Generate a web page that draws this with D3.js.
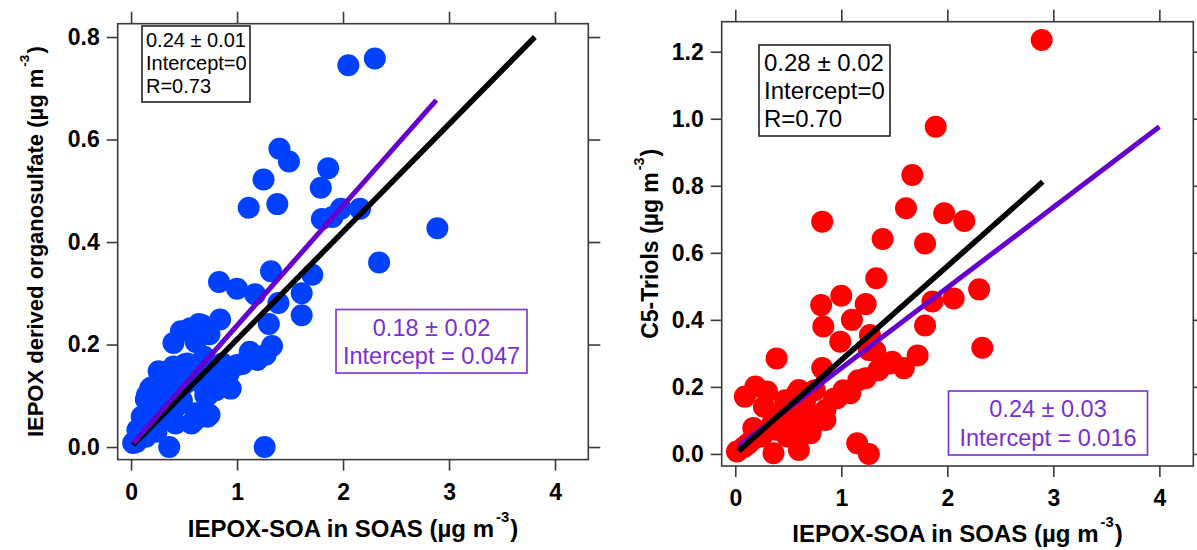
<!DOCTYPE html>
<html>
<head>
<meta charset="utf-8">
<script src="https://cdn.jsdelivr.net/npm/d3@7"></script>
<style>
  body { margin: 0; background: #fff; }
  svg { display: block; }
  text { font-family: "Liberation Sans", Arial, Helvetica, sans-serif; }
</style>
</head>
<body>
<svg id="chart" width="1197" height="550"></svg>
<script>
// ---- data ---------------------------------------------------------------
const xTickValues = [0, 1, 2, 3, 4];
const organosulfateTicks = [0, 0.2, 0.4, 0.6, 0.8];
const triolTicks = [0, 0.2, 0.4, 0.6, 0.8, 1.0, 1.2];

// IEPOX-SOA (x) vs IEPOX derived organosulfate (y), µg m-3
const organosulfatePoints = [
  [2.05,0.745],[2.30,0.758],[1.40,0.582],[1.49,0.557],[1.25,0.522],[1.86,0.544],
  [1.79,0.506],[1.11,0.467],[1.38,0.474],[1.80,0.445],[1.90,0.449],[1.98,0.465],
  [2.16,0.465],[2.89,0.427],[2.34,0.360],[1.32,0.343],[1.71,0.336],[1.61,0.300],
  [1.61,0.257],[0.83,0.322],[1.00,0.309],[1.17,0.298],[1.39,0.281],[1.30,0.240],
  [1.33,0.197],[1.27,0.180],[0.84,0.249],[0.64,0.240],[0.74,0.220],[0.47,0.226],
  [0.40,0.203],[1.12,0.186],[1.05,0.162],[0.84,0.145],[0.81,0.114],[0.72,0.100],
  [0.74,0.063],[0.60,0.052],[1.26,0.000],[0.36,0.000],[0.02,0.008],[0.56,0.232],
  [0.67,0.238],[0.61,0.205],[0.53,0.163],[0.40,0.157],[0.26,0.148],[0.36,0.148],
  [0.20,0.117],[0.15,0.101],[0.10,0.059],[0.06,0.033],[0.29,0.053],[0.40,0.072],
  [0.42,0.046],[0.48,0.091],[0.61,0.066],[0.57,0.046],[0.72,0.059],[0.80,0.111],
  [0.70,0.101],[0.64,0.137],[0.80,0.143],[0.92,0.143],[0.86,0.163],[0.69,0.176],
  [0.51,0.124],[0.36,0.117],[0.32,0.091],[0.21,0.078],[0.18,0.114],[0.14,0.093],
  [0.43,0.080],[0.11,0.059],[0.65,0.127],[0.94,0.114],[0.79,0.130],[1.00,0.160],
  [0.505,0.161],[1.19,0.170],[0.24,0.030],[0.14,0.020],[0.05,0.010]
];

// IEPOX-SOA (x) vs C5-Triols (y), µg m-3
const triolPoints = [
  [2.89,1.235],[1.89,0.976],[1.67,0.832],[1.61,0.733],[1.97,0.718],[2.16,0.695],
  [0.82,0.693],[1.39,0.641],[1.79,0.628],[1.33,0.524],[1.00,0.472],[0.81,0.444],
  [1.23,0.447],[2.30,0.491],[2.06,0.464],[1.86,0.455],[2.33,0.317],[1.79,0.383],
  [1.72,0.294],[0.83,0.380],[1.10,0.400],[0.99,0.335],[1.27,0.355],[1.26,0.310],
  [0.39,0.285],[0.82,0.256],[1.59,0.256],[1.46,0.270],[1.35,0.250],[1.23,0.226],
  [1.16,0.220],[1.085,0.181],[0.96,0.166],[0.85,0.131],[0.85,0.101],[0.72,0.081],
  [0.71,0.062],[0.60,0.012],[0.36,0.002],[1.15,0.032],[1.26,0.000],[0.016,0.007],
  [0.09,0.171],[0.19,0.201],[0.30,0.186],[0.27,0.141],[0.17,0.077],[0.50,0.151],
  [0.60,0.191],[0.49,0.052],[0.25,0.052],[0.16,0.042],[0.35,0.092],[0.47,0.160],
  [0.58,0.180],[0.66,0.160],[0.75,0.190],[0.69,0.120],[0.82,0.120],[0.60,0.110],
  [0.38,0.072],[0.60,0.072],[0.08,0.020],[0.12,0.030],[0.50,0.100],[0.42,0.120],
  [0.55,0.130],[0.65,0.090],[1.02,0.190],[0.93,0.165],[1.48,0.275],[1.32,0.307]
];

// fitted lines: slope, intercept and x extent
const organosulfateFits = [
  { name: "origin", slope: 0.21,  intercept: 0.000, x0: 0.02, x1: 3.81 },
  { name: "free",   slope: 0.234, intercept: 0.003, x0: 0.02, x1: 2.88 }
];
const triolFits = [
  { name: "free",   slope: 0.24, intercept: 0.016, x0: 0.03, x1: 4.00 },
  { name: "origin", slope: 0.28, intercept: 0.000, x0: 0.03, x1: 2.90 }
];

const organosulfateOriginStats = ["0.24 ± 0.01", "Intercept=0", "R=0.73"];
const organosulfateFreeStats = ["0.18 ± 0.02", "Intercept = 0.047"];
const triolOriginStats = ["0.28 ± 0.02", "Intercept=0", "R=0.70"];
const triolFreeStats = ["0.24 ± 0.03", "Intercept = 0.016"];

// ---- drawing ------------------------------------------------------------
const svg = d3.select("#chart");
const FRAME = "#3a3a3a";
const PURPLE_LINE = "#6600cc";
const PURPLE_TEXT = "#7a2fd2";

function addUnitTitle(sel, main, fs) {
  sel.append("tspan").text(main);
  sel.append("tspan").attr("font-size", fs * 0.62).attr("dy", -fs * 0.62).attr("dx", 2).text("-3");
  sel.append("tspan").attr("dy", fs * 0.62).attr("dx", 1).text(")");
}

function drawPanel(cfg) {
  const x = d3.scaleLinear().domain(cfg.xDomain).range(cfg.xRange);
  const y = d3.scaleLinear().domain(cfg.yDomain).range(cfg.yRange);
  const g = svg.append("g");

  // points
  g.append("g").selectAll("circle")
    .data(cfg.points)
    .join("circle")
    .attr("cx", d => x(d[0]))
    .attr("cy", d => y(d[1]))
    .attr("r", 11)
    .attr("fill", cfg.color);

  // fit lines
  cfg.fits.forEach(f => {
    g.append("line")
      .attr("x1", x(f.x0)).attr("y1", y(f.intercept + f.slope * f.x0))
      .attr("x2", x(f.x1)).attr("y2", y(f.intercept + f.slope * f.x1))
      .attr("stroke", f.name === "origin" ? "#000" : PURPLE_LINE)
      .attr("stroke-width", f.name === "origin" ? 5.5 : 5);
  });

  // axes
  const [L, R] = cfg.xRange, [B, T] = cfg.yRange;
  const styleAxis = a => {
    a.select(".domain").remove();
    a.selectAll(".tick line").attr("stroke", FRAME).attr("stroke-width", 1.6);
    a.selectAll("text").attr("fill", "#000").attr("font-size", 23)
      .attr("font-weight", "bold").attr("font-family", '"Liberation Sans", Arial, sans-serif');
  };
  g.append("g").attr("transform", `translate(0,${B})`)
    .call(d3.axisBottom(x).tickValues(xTickValues).tickFormat(d3.format("d")).tickSize(11).tickPadding(13))
    .call(styleAxis);
  g.append("g").attr("transform", `translate(0,${T})`)
    .call(d3.axisTop(x).tickValues(xTickValues).tickFormat("").tickSize(12))
    .call(styleAxis);
  g.append("g").attr("transform", `translate(${L},0)`)
    .call(d3.axisLeft(y).tickValues(cfg.yTicks).tickFormat(d3.format(".1f")).tickSize(11).tickPadding(7))
    .call(styleAxis);
  g.append("g").attr("transform", `translate(${R},0)`)
    .call(d3.axisRight(y).tickValues(cfg.yTicks).tickFormat("").tickSize(12))
    .call(styleAxis);

  // frame
  g.append("rect")
    .attr("x", L).attr("y", T).attr("width", R - L).attr("height", B - T)
    .attr("fill", "none").attr("stroke", FRAME).attr("stroke-width", 1.6);

  // axis titles
  addUnitTitle(
    g.append("text").attr("x", (L + R) / 2).attr("y", cfg.xTitleY)
      .attr("text-anchor", "middle").attr("font-size", 24).attr("font-weight", "bold"),
    "IEPOX-SOA in SOAS (µg m", 24);
  addUnitTitle(
    g.append("text").attr("transform", `translate(${cfg.yTitleX},${(T + B) / 2}) rotate(-90)`)
      .attr("text-anchor", "middle").attr("dy", "0.35em")
      .attr("font-size", cfg.yTitleSize).attr("font-weight", "bold"),
    cfg.yTitle, cfg.yTitleSize);

  // statistics boxes
  const ob = cfg.originBox;
  g.append("rect").attr("x", ob.x).attr("y", ob.y).attr("width", ob.w).attr("height", ob.h)
    .attr("fill", "#fff").attr("stroke", "#222").attr("stroke-width", 1.6);
  cfg.originStats.forEach((s, i) => {
    g.append("text").attr("x", ob.x + ob.pad).attr("y", ob.y + ob.first + i * ob.step)
      .attr("font-size", ob.fs).attr("fill", "#000").text(s);
  });
  const fb = cfg.freeBox;
  g.append("rect").attr("x", fb.x).attr("y", fb.y).attr("width", fb.w).attr("height", fb.h)
    .attr("fill", "#fff").attr("stroke", PURPLE_TEXT).attr("stroke-width", 1.6);
  cfg.freeStats.forEach((s, i) => {
    g.append("text").attr("x", fb.x + fb.w / 2).attr("y", fb.y + fb.first + i * fb.step)
      .attr("text-anchor", "middle").attr("font-size", fb.fs).attr("fill", PURPLE_TEXT).text(s);
  });
}

drawPanel({
  points: organosulfatePoints, color: "#0040ff", fits: organosulfateFits,
  xDomain: [-0.126, 4.314], xRange: [117.7, 588.3],
  yDomain: [-0.0245, 0.826], yRange: [459.6, 23.7],
  yTicks: organosulfateTicks,
  xTitleY: 537, yTitleX: 35, yTitleSize: 22, yTitle: "IEPOX derived organosulfate (µg m",
  originStats: organosulfateOriginStats,
  originBox: { x: 142, y: 26, w: 108, h: 76, pad: 4, first: 21, step: 23, fs: 20 },
  freeStats: organosulfateFreeStats,
  freeBox: { x: 336, y: 309.5, w: 191, h: 63.5, first: 26, step: 28, fs: 23.5 }
});

drawPanel({
  points: triolPoints, color: "#ff0000", fits: triolFits,
  xDomain: [-0.128, 4.32], xRange: [721.7, 1193.3],
  yDomain: [-0.036, 1.2895], yRange: [466, 21.7],
  yTicks: triolTicks,
  xTitleY: 542, yTitleX: 650, yTitleSize: 23, yTitle: "C5-Triols (µg m",
  originStats: triolOriginStats,
  originBox: { x: 759, y: 45, w: 131, h: 91, pad: 5, first: 25.5, step: 28.3, fs: 24 },
  freeStats: triolFreeStats,
  freeBox: { x: 948.5, y: 391, w: 199, h: 64, first: 26, step: 28.5, fs: 23.5 }
});
</script>
</body>
</html>
